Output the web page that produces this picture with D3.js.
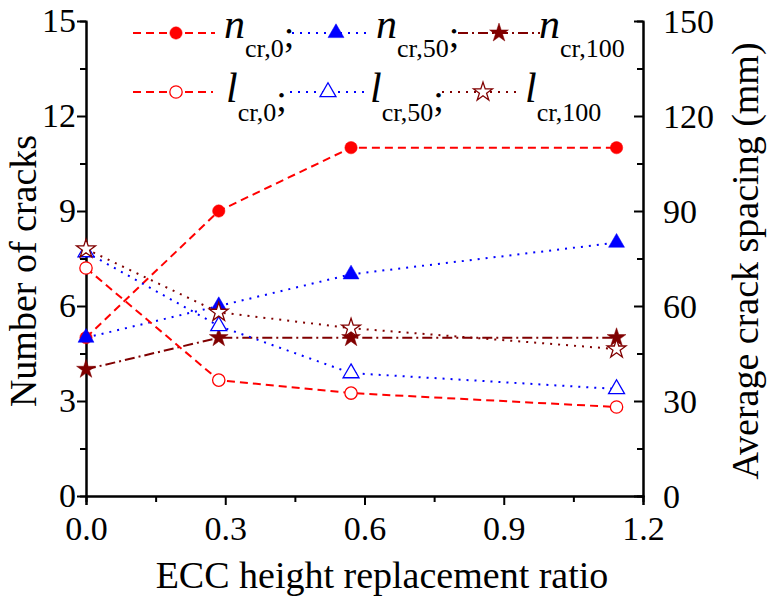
<!DOCTYPE html>
<html><head><meta charset="utf-8">
<script src="https://cdn.jsdelivr.net/npm/d3@7"></script>
</head><body style="margin:0;background:#fff"><svg id="c" width="775" height="601" font-family="Liberation Serif" style="display:block"></svg>
<script>
const ratio = [0, 0.286, 0.571, 1.143];
const nCr0 = [5, 9, 11, 11];
const nCr50 = [5, 6, 7, 8];
const nCr100 = [4, 5, 5, 5];
const lCr0 = [72, 36.6, 32.5, 28.1];
const lCr50 = [77, 53.7, 38.8, 33.8];
const lCr100 = [78, 58, 53, 46.4];
const xTicks = [0, 0.3, 0.6, 0.9, 1.2];
const yLeftTicks = [0, 3, 6, 9, 12, 15];
const yRightTicks = [0, 30, 60, 90, 120, 150];

const FF = "Liberation Serif";
const svg = d3.select("#c");
const L = 86, R = 643, T = 21, B = 496;
const x = d3.scaleLinear().domain([0, 1.2]).range([L, R]);
const yL = d3.scaleLinear().domain([0, 15]).range([B, T]);
const yR = d3.scaleLinear().domain([0, 150]).range([B, T]);

const RED = "#ff0000", BLUE = "#0000ff", DR = "#800000";
const series = [
  {name:"n", sub:"cr,0", vals:nCr0, y:yL, color:RED, dash:"8,5", sym:d3.symbolCircle, size:120, fill:true},
  {name:"n", sub:"cr,50", vals:nCr50, y:yL, color:BLUE, dash:"2,6", sym:d3.symbolTriangle, size:110, fill:true},
  {name:"n", sub:"cr,100", vals:nCr100, y:yL, color:DR, dash:"10,4,2,4", sym:d3.symbolStar, size:110, fill:true},
  {name:"l", sub:"cr,0", vals:lCr0, y:yR, color:RED, dash:"8,5", sym:d3.symbolCircle, size:120, fill:false},
  {name:"l", sub:"cr,50", vals:lCr50, y:yR, color:BLUE, dash:"2,6", sym:d3.symbolTriangle, size:110, fill:false},
  {name:"l", sub:"cr,100", vals:lCr100, y:yR, color:DR, dash:"2,6", sym:d3.symbolStar, size:110, fill:false}
];

function styleAxis(g){
  g.attr("font-family",FF);
  g.select(".domain").attr("stroke","#000").attr("stroke-width",2);
  g.selectAll(".tick line").attr("stroke","#000").attr("stroke-width",2);
  g.selectAll("text").attr("font-size",34).attr("fill","#000").attr("font-family",FF);
}
const minorX = d3.range(0.15, 1.2, 0.3);
const minorY = d3.range(1.5, 15, 3);
const minorYR = d3.range(15, 150, 30);
svg.append("g").attr("transform",`translate(0,${B})`).call(d3.axisBottom(x).tickValues(minorX).tickSize(6).tickFormat("")).call(styleAxis);
svg.append("g").attr("transform",`translate(${L},0)`).call(d3.axisLeft(yL).tickValues(minorY).tickSize(6).tickFormat("")).call(styleAxis);
svg.append("g").attr("transform",`translate(${R},0)`).call(d3.axisLeft(yR).tickValues(minorYR).tickSize(6).tickFormat("")).call(styleAxis);

const gx = svg.append("g").attr("transform",`translate(0,${B})`).call(d3.axisBottom(x).tickValues(xTicks).tickSize(9).tickPadding(12).tickFormat(d3.format(".1f"))).call(styleAxis);
const gl = svg.append("g").attr("transform",`translate(${L},0)`).call(d3.axisLeft(yL).tickValues(yLeftTicks).tickSize(9).tickPadding(1).tickSizeOuter(0)).call(styleAxis);
const gr = svg.append("g").attr("transform",`translate(${R},0)`).call(d3.axisLeft(yR).tickValues(yRightTicks).tickSize(9).tickPadding(0).tickSizeOuter(0)).call(styleAxis);
gr.selectAll(".tick text").attr("text-anchor","start").attr("x",20);
gx.selectAll(".tick text").attr("dy","0.68em");
gl.selectAll(".tick text").attr("dy","0.32em");
gr.selectAll(".tick text").attr("dy","0.34em");

svg.append("text").attr("x",382).attr("y",588).attr("text-anchor","middle").attr("font-size",38).attr("font-family",FF).text("ECC height replacement ratio");
svg.append("text").attr("transform","translate(36,271) rotate(-90)").attr("text-anchor","middle").attr("font-size",38).attr("font-family",FF).text("Number of cracks");
svg.append("text").attr("transform","translate(758,261) rotate(-90)").attr("text-anchor","middle").attr("font-size",38).attr("font-family",FF).text("Average crack spacing (mm)");

const plot = svg.append("g");
series.forEach(s=>{
  const line = d3.line().x((d,i)=>x(ratio[i])).y(d=>s.y(d));
  plot.append("path").datum(s.vals).attr("d",line).attr("fill","none")
    .attr("stroke",s.color).attr("stroke-width",2).attr("stroke-dasharray",s.dash);
});
series.forEach(s=>{
  plot.selectAll(null).data(s.vals).enter().append("path")
    .attr("d",d3.symbol().type(s.sym).size(s.size))
    .attr("transform",(d,i)=>`translate(${x(ratio[i])},${s.y(d)})`)
    .attr("fill",s.fill? s.color : "#fff").attr("stroke",s.color).attr("stroke-width",s.fill?0.5:1.3);
});

const leg = [
  {s:0, x1:133, x2:215, mx:176, y:33, tx:224, semi:true},
  {s:1, x1:292, x2:372, mx:336, y:33, tx:376, semi:true},
  {s:2, x1:458, x2:540, mx:499, y:33, tx:539, semi:false},
  {s:3, x1:133, x2:213, mx:176, y:92, tx:226, semi:true},
  {s:4, x1:290, x2:366, mx:328, y:92, tx:370, semi:true},
  {s:5, x1:442, x2:520, mx:483, y:92, tx:525, semi:false}
];
const lg = svg.append("g");
leg.forEach(e=>{
  const s = series[e.s];
  lg.append("line").attr("x1",e.x1).attr("x2",e.x2).attr("y1",e.y).attr("y2",e.y)
    .attr("stroke",s.color).attr("stroke-width",2).attr("stroke-dasharray",s.dash);
  lg.append("path").attr("d",d3.symbol().type(s.sym).size(s.size)).attr("transform",`translate(${e.mx},${e.y})`)
    .attr("fill",s.fill? s.color:"#fff").attr("stroke",s.color).attr("stroke-width",s.fill?0.5:1.3);
  const t = lg.append("text").attr("x",e.tx).attr("y",e.y+(s.name==="n"?5:10)).attr("fill","#000").attr("font-family",FF);
  t.append("tspan").attr("font-style","italic").attr("font-size",42).text(s.name);
  t.append("tspan").attr("font-size",26).attr("dy",19).text(s.sub);
  if(e.semi) t.append("tspan").attr("font-size",38).attr("dy",-10).text(";");
});
</script></body></html>
